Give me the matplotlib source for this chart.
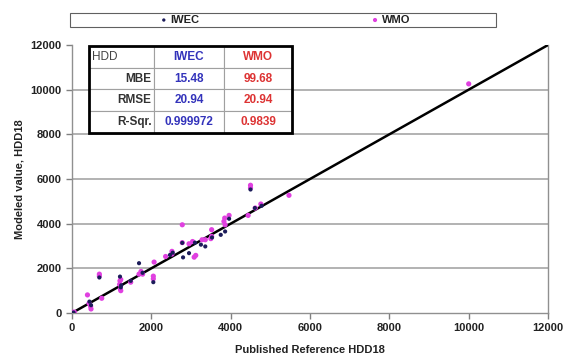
import matplotlib
matplotlib.use("Agg")
import matplotlib.pyplot as plt
from matplotlib.patches import Rectangle

plt.rcParams['font.family'] = ['Liberation Sans', 'DejaVu Sans']

# published reference vs modeled HDD18
iwec_x = [0, 40, 440, 480, 690, 1210, 1240, 1230, 1480, 1690, 1780, 2050, 2470,
          2540, 2800, 2780, 2950, 3100, 3250, 3360, 3530, 3750, 3860, 3960, 4500,
          4610, 4780]
iwec_y = [0, 20, 510, 350, 1590, 1630, 1240, 1150, 1440, 2230, 1800, 1380, 2600,
          2700, 2490, 3140, 2680, 3150, 3060, 2980, 3380, 3500, 3650, 4220, 5530,
          4700, 4800]

wmo_x = [20, 60, 390, 430, 470, 480, 750, 690, 690, 1210, 1230, 1200, 1220, 1230,
         1480, 1740, 1780, 1690, 2070, 2050, 2050, 2360, 2520, 2520, 2780, 2780,
         2950, 3040, 3120, 3080, 3280, 3360, 3520, 3520, 3500, 3830, 3860, 3850,
         3960, 4440, 4500, 4500, 4620, 4760, 5470, 10000]
wmo_y = [30, 40, 810, 430, 290, 180, 660, 1740, 1650, 1440, 1500, 1280, 1070, 1000,
         1380, 1860, 1740, 1740, 2280, 1650, 1530, 2530, 2760, 2640, 3150, 3950,
         3100, 3200, 2580, 2500, 3280, 3280, 3730, 3430, 3330, 4100, 3950, 4250,
         4370, 4370, 5720, 5600, 4700, 4880, 5270, 10260]

stat_names = ["MBE", "RMSE", "R-Sqr."]
iwec_stats = ["15.48", "20.94", "0.999972"]
wmo_stats = ["99.68", "20.94", "0.9839"]

ticks = [0, 2000, 4000, 6000, 8000, 10000, 12000]

fig = plt.figure(figsize=(5.65, 3.56), dpi=100)
ax = fig.add_axes([0.1274, 0.1208, 0.8426, 0.7528])

ax.set_xlim(0, 12000)
ax.set_ylim(0, 12000)
for t in ticks[1:-1]:
    ax.axhline(t, color='#a6a6a6', lw=1.2, zorder=1)

ax.plot([0, 12000], [0, 12000], color='black', lw=1.8, zorder=3)
ax.scatter(wmo_x, wmo_y, marker='o', s=14, color='#e040e0', edgecolors='none', zorder=4, label='WMO')
ax.scatter(iwec_x, iwec_y, marker='o', s=9, color='#1c1c5a', edgecolors='none', zorder=5, label='IWEC')

ax.set_xticks(ticks)
ax.set_yticks(ticks)
ax.tick_params(labelsize=8, length=4, color='#808080', width=1)
for lab in ax.get_xticklabels() + ax.get_yticklabels():
    lab.set_fontweight('bold')
    lab.set_color('#222222')

ax.spines['top'].set_visible(False)
for s in ['left', 'bottom', 'right']:
    ax.spines[s].set_color('#909090')
    ax.spines[s].set_linewidth(1)

ax.set_xlabel("Published Reference HDD18", fontsize=8, fontweight='bold', color='#222222', labelpad=8)
ax.set_ylabel("Modeled value, HDD18", fontsize=8, fontweight='bold', color='#222222', labelpad=4)

# stats table
cells = [["HDD", "IWEC", "WMO"]]
for i in range(len(stat_names)):
    cells.append([stat_names[i], iwec_stats[i], wmo_stats[i]])
tb = ax.table(cellText=cells, cellLoc='center', bbox=[0.0357, 0.672, 0.4265, 0.324],
              colWidths=[65, 70, 68], zorder=6)
tb.auto_set_font_size(False)
for (r, c), cell in tb.get_celld().items():
    cell.set_edgecolor('#a0a0a0')
    cell.set_linewidth(0.8)
    cell.set_facecolor('white')
    txt = cell.get_text()
    txt.set_fontsize(8.5)
    if c == 0:
        if r == 0:
            cell._loc = 'left'
            cell.PAD = 0.04
            txt.set_ha('left')
            txt.set_color('#444444')
        else:
            cell._loc = 'right'
            cell.PAD = 0.04
            txt.set_ha('right')
            txt.set_fontweight('bold')
            txt.set_color('#333333')
    elif c == 1:
        txt.set_color('#3333bb')
        txt.set_fontweight('bold')
    else:
        txt.set_color('#dd3333')
        txt.set_fontweight('bold')
ax.add_patch(Rectangle((0.0357, 0.672), 0.4265, 0.324, transform=ax.transAxes,
                       fill=False, edgecolor='black', lw=2, zorder=7))

# legend on top
fig.patches.append(Rectangle((0.124, 0.924), 0.754, 0.039, transform=fig.transFigure,
                             fill=False, edgecolor='#606060', lw=0.8))
h, l = ax.get_legend_handles_labels()
leg = fig.legend([h[1], h[0]], [l[1], l[0]], loc='center', bbox_to_anchor=(0.505, 0.944),
                 ncol=2, frameon=False, fontsize=8, handlelength=0.6, handletextpad=0.3,
                 columnspacing=15.5, markerscale=0.8, borderpad=0)
for t in leg.get_texts():
    t.set_fontweight('bold')
    t.set_color('#222222')

fig.savefig("out.png", dpi=100)
